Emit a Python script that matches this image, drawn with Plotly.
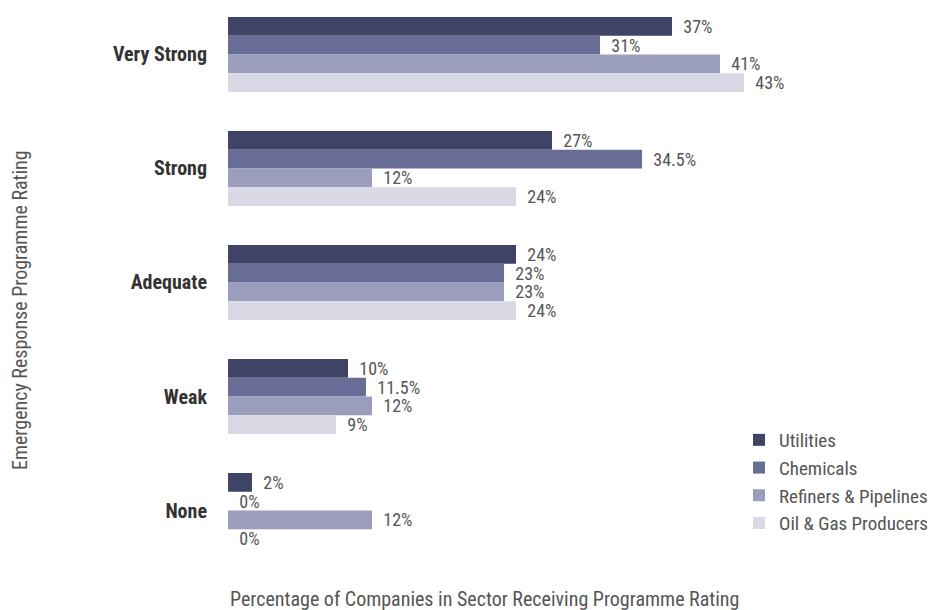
import plotly.graph_objects as go

# Programme rating categories (top to bottom)
ratings = ["Very Strong", "Strong", "Adequate", "Weak", "None"]

# Share of companies per sector receiving each rating (%)
utilities = [37, 27, 24, 10, 2]
chemicals = [31, 34.5, 23, 11.5, 0]
refiners = [41, 12, 23, 12, 12]
oil_gas = [43, 24, 24, 9, 0]

sectors = ["Utilities", "Chemicals", "Refiners & Pipelines", "Oil & Gas Producers"]
series = [utilities, chemicals, refiners, oil_gas]
colors = ["#3f4466", "#686d95", "#9b9dbd", "#d9d9e6"]

FONT = "Roboto Condensed, Liberation Sans Narrow, DejaVu Sans Condensed, Roboto, sans-serif"

fig = go.Figure()
for name, vals, col in zip(sectors, series, colors):
    fig.add_trace(go.Bar(
        y=ratings,
        x=vals,
        name=name,
        orientation="h",
        marker=dict(color=col, line=dict(width=0)),
        text=[f"  {v:g}%" for v in vals],
        textposition="outside",
        constraintext="none",
        textfont=dict(family=FONT, size=18, color="#555555"),
        cliponaxis=False,
    ))

fig.update_layout(
    width=937,
    height=610,
    barmode="group",
    bargap=0.342,
    bargroupgap=0,
    plot_bgcolor="white",
    paper_bgcolor="white",
    margin=dict(l=228, r=0, t=10, b=50, autoexpand=False),
    font=dict(family=FONT, color="#555555"),
    xaxis=dict(range=[0, 59.08], visible=False, showgrid=False, zeroline=False),
    yaxis=dict(
        categoryorder="array",
        categoryarray=ratings,
        range=[4.434, -0.39],
        showgrid=False,
        zeroline=False,
        showline=False,
        ticks="",
        ticklabelstandoff=20,
        tickfont=dict(family=FONT, size=20, color="#333333", weight="bold"),
    ),
    legend=dict(
        xref="paper", yref="paper",
        x=(739 - 228) / 709, y=1 - (421 - 10) / 550,
        xanchor="left", yanchor="top",
        traceorder="normal",
        font=dict(family=FONT, size=19, color="#555555"),
        itemwidth=30,
        tracegroupgap=0,
        bgcolor="rgba(0,0,0,0)",
    ),
    showlegend=True,
)

fig.add_annotation(
    text="Emergency Response Programme Rating",
    xref="paper", yref="paper",
    x=(20 - 228) / 709, y=1 - (310 - 10) / 550,
    xanchor="center", yanchor="middle",
    textangle=-90, showarrow=False,
    font=dict(family=FONT, size=20, color="#555555"),
)
fig.add_annotation(
    text="Percentage of Companies in Sector Receiving Programme Rating",
    xref="paper", yref="paper",
    x=0, y=-(599 - 560) / 550,
    xanchor="left", yanchor="middle",
    showarrow=False,
    font=dict(family=FONT, size=20, color="#555555"),
)

fig.write_html("out.html")
